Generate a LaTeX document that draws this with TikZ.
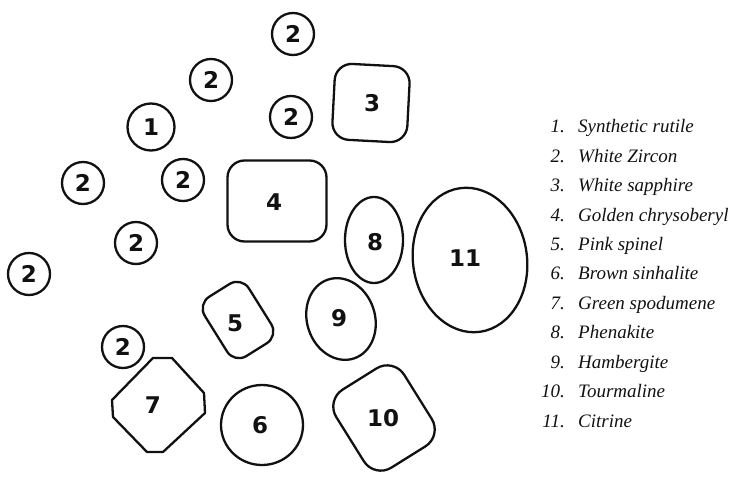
\documentclass[tikz,border=0pt]{standalone}
\usepackage{fontspec}
\setmainfont{Liberation Serif}
\newfontfamily\digitfont{DejaVu Sans}
\usepackage{tikz}
\usetikzlibrary{shapes.geometric,positioning}
\definecolor{gemink}{HTML}{111111}

\begin{document}
\begin{tikzpicture}[x=1pt,y=-1pt,
  gem/.style={draw=gemink,line width=2.3pt,inner sep=0pt},
  zircon/.style={gem,circle,minimum size=42pt},
  cutbox/.style={gem,rectangle,rounded corners=17pt},
  oval/.style={gem,ellipse},
  num/.style={font=\digitfont\bfseries\fontsize{23}{23}\selectfont,text=gemink,inner sep=0pt},
  legend/.style={font=\itshape\fontsize{19}{22}\selectfont,text=gemink,inner sep=0pt}
]
\useasboundingbox (0,0) rectangle (731,481);

% white zircons and rutile
\node[zircon] (z1) at (293,34) {};
\node[zircon] (z2) at (211,80) {};
\node[zircon] (z3) at (291,117) {};
\node[zircon] (z4) at (83,183) {};
\node[zircon] (z5) at (183,180) {};
\node[zircon] (z6) at (136,243) {};
\node[zircon] (z7) at (29,274) {};
\node[zircon] (z8) at (123,347) {};
\node[zircon,minimum size=47pt] (rutile) at (151,127) {};
\foreach \z in {z1,z2,z3,z4,z5,z6,z7,z8} \node[num] at (\z) {2};
\node[num] at (rutile) {1};

% larger stones
\node[cutbox,minimum width=75pt,minimum height=76pt,rotate=-3] (sapphire) at (371,103) {};
\node[cutbox,minimum width=99pt,minimum height=81pt] (chryso) at (277,201) {};
\node[cutbox,minimum width=52pt,minimum height=70pt,rotate=32,rounded corners=14pt] (spinel) at (238,320) {};
\node[cutbox,minimum width=80pt,minimum height=92pt,rotate=32,rounded corners=20pt] (tourm) at (384,418) {};
\node[oval,minimum width=58pt,minimum height=86pt] (phena) at (374,240) {};
\node[oval,minimum width=68pt,minimum height=83pt,rotate=18] (hamb) at (341,319) {};
\node[oval,minimum width=82pt,minimum height=80pt] (sinh) at (262,425) {};
\node[oval,minimum width=114pt,minimum height=145pt,rotate=8] (citrine) at (470,260) {};
\draw[gem,line join=round] (153,358) -- (172,358) -- (204,393) -- (205,413)
  -- (163,452) -- (147,452) -- (113,417) -- (112,400) -- cycle;

\node[num] at (372,103) {3};
\node[num] at (274,202) {4};
\node[num] at (235,323) {5};
\node[num] at (260,425) {6};
\node[num] at (153,405) {7};
\node[num] at (375,242) {8};
\node[num] at (339,318) {9};
\node[num] at (383,418) {10};
\node[num] at (465,258) {11};

% key
\foreach \n/\name [count=\i] in {1/Synthetic rutile,2/White Zircon,3/White sapphire,
  4/Golden chrysoberyl,5/Pink spinel,6/Brown sinhalite,7/Green spodumene,
  8/Phenakite,9/Hambergite,10/Tourmaline,11/Citrine}
{
  \node[legend,anchor=base east] (k\i) at (565,{133+29.4*(\i-1)}) {\n.};
  \node[legend,anchor=base west] at (578,{133+29.4*(\i-1)}) {\name};
}
\end{tikzpicture}
\end{document}
